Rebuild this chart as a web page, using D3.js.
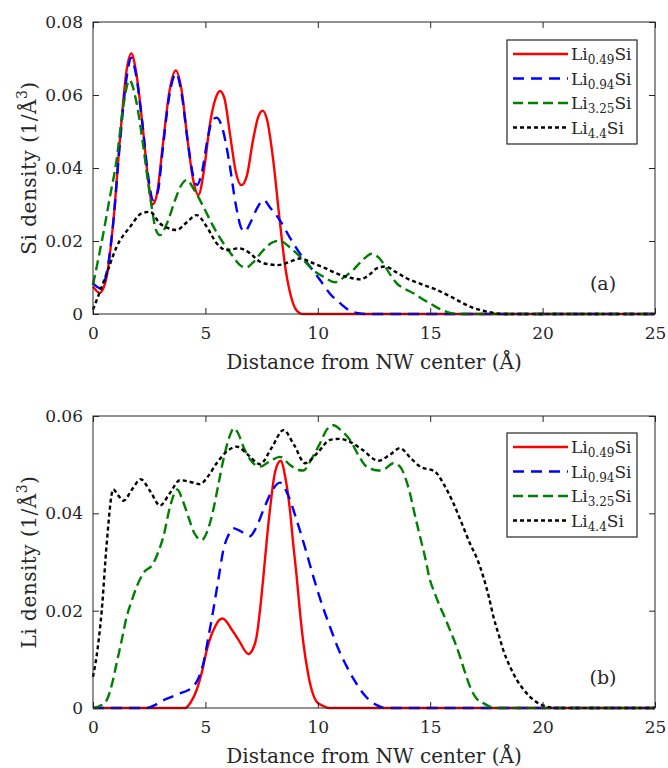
<!DOCTYPE html>
<html lang="en">
<head>
  <meta charset="utf-8">
  <title>Si and Li density</title>
  <script src="https://d3js.org/d3.v7.min.js"></script>
  <style>
    body { margin: 0; background: #fff; }
    svg text { font-family: "DejaVu Serif", serif; fill: #262626; }
  </style>
</head>
<body>
<div id="chart"></div>
<script>
  // series names (legend)
  const names = [
    { base: "Li", sub: "0.49", tail: "Si" },
    { base: "Li", sub: "0.94", tail: "Si" },
    { base: "Li", sub: "3.25", tail: "Si" },
    { base: "Li", sub: "4.4", tail: "Si" }
  ]
  const xTicks = [0, 5, 10, 15, 20, 25]
  const siTicks = [0, 0.02, 0.04, 0.06, 0.08]
  const liTicks = [0, 0.02, 0.04, 0.06]

  // Si density: [distance, density]
  const siLi049 = [[0,0.0075],[0.3,0.0058],[0.6,0.010],[0.9,0.025],[1.2,0.048],[1.5,0.067],[1.7,0.0714],[1.9,0.067],[2.2,0.052],[2.45,0.037],[2.65,0.030],[2.85,0.033],[3.1,0.046],[3.4,0.061],[3.68,0.0667],[3.95,0.061],[4.2,0.048],[4.45,0.037],[4.69,0.0326],[4.95,0.040],[5.2,0.052],[5.45,0.059],[5.65,0.0611],[5.85,0.059],[6.1,0.049],[6.35,0.039],[6.6,0.0353],[6.85,0.038],[7.1,0.047],[7.35,0.054],[7.55,0.0557],[7.75,0.053],[8.0,0.043],[8.3,0.026],[8.55,0.013],[8.8,0.005],[9.05,0.001],[9.3,0],[25,0]]
  const siLi094 = [[0,0.0084],[0.35,0.0070],[0.6,0.011],[0.9,0.025],[1.2,0.047],[1.5,0.065],[1.7,0.0702],[1.9,0.066],[2.2,0.052],[2.45,0.038],[2.68,0.0312],[2.9,0.034],[3.1,0.045],[3.4,0.060],[3.7,0.0659],[3.95,0.060],[4.2,0.048],[4.45,0.038],[4.62,0.0353],[4.85,0.039],[5.1,0.048],[5.3,0.053],[5.5,0.0538],[5.75,0.051],[6.05,0.042],[6.35,0.030],[6.6,0.0235],[6.76,0.0226],[7.0,0.025],[7.3,0.029],[7.58,0.0312],[7.9,0.029],[8.3,0.0258],[8.75,0.021],[9.2,0.0166],[9.65,0.013],[10.1,0.0093],[10.55,0.0055],[11.0,0.0029],[11.4,0.001],[11.8,0.0002],[12.2,0],[25,0]]
  const siLi325 = [[0,0.008],[0.2,0.014],[0.46,0.0221],[0.75,0.032],[1.05,0.0422],[1.35,0.057],[1.62,0.0641],[1.9,0.059],[2.24,0.0458],[2.45,0.036],[2.61,0.0294],[2.8,0.023],[2.98,0.0216],[3.3,0.025],[3.65,0.0312],[3.9,0.035],[4.17,0.0367],[4.5,0.034],[4.91,0.0294],[5.35,0.024],[5.8,0.0194],[6.2,0.016],[6.54,0.0134],[6.8,0.0127],[7.1,0.014],[7.58,0.0175],[7.95,0.0195],[8.3,0.0201],[8.8,0.018],[9.36,0.0148],[9.8,0.012],[10.25,0.0102],[10.77,0.0087],[11.15,0.010],[11.58,0.0121],[12.0,0.0148],[12.4,0.0165],[12.7,0.0155],[12.91,0.0139],[13.2,0.011],[13.51,0.0084],[13.9,0.0068],[14.25,0.0057],[14.6,0.0043],[14.99,0.0029],[15.35,0.0016],[15.73,0.0006],[16.2,0],[25,0]]
  const siLi44 = [[0,0.0012],[0.3,0.006],[0.61,0.0111],[1.05,0.0184],[1.65,0.0239],[2.17,0.0276],[2.54,0.0280],[2.98,0.0248],[3.35,0.0235],[3.72,0.0230],[4.15,0.025],[4.61,0.0271],[5.05,0.024],[5.5,0.0194],[5.95,0.0175],[6.5,0.018],[6.95,0.0168],[7.43,0.0143],[7.85,0.0136],[8.24,0.0134],[8.75,0.0143],[9.21,0.0152],[9.8,0.0139],[10.35,0.0125],[10.84,0.0111],[11.4,0.0100],[11.88,0.0095],[12.3,0.0108],[12.62,0.0125],[12.99,0.0130],[13.5,0.0114],[13.95,0.0098],[14.6,0.0082],[15.29,0.0066],[15.9,0.0048],[16.47,0.0029],[16.9,0.0017],[17.36,0.0009],[17.8,0.0003],[18.25,0],[25,0]]

  // Li density: [distance, density]
  const liLi049 = [[0,0],[4.1,0],[4.35,0.0012],[4.61,0.0037],[4.85,0.0075],[5.06,0.0119],[5.25,0.0148],[5.43,0.0167],[5.6,0.0180],[5.77,0.0184],[5.93,0.0178],[6.09,0.0167],[6.5,0.0138],[6.91,0.0111],[7.1,0.0120],[7.28,0.0147],[7.45,0.021],[7.58,0.0270],[7.72,0.034],[7.87,0.0407],[8.1,0.0485],[8.35,0.0508],[8.55,0.0475],[8.76,0.0407],[8.9,0.034],[9.06,0.0270],[9.2,0.020],[9.36,0.0133],[9.55,0.0075],[9.73,0.0037],[9.95,0.0013],[10.25,0.0004],[10.5,0],[25,0]]
  const liLi094 = [[0,0],[2.39,0],[2.75,0.0006],[3.13,0.0016],[3.5,0.0023],[3.87,0.003],[4.2,0.0036],[4.46,0.0044],[4.7,0.0062],[4.91,0.0092],[5.13,0.0145],[5.35,0.0201],[5.58,0.0265],[5.8,0.0325],[6.02,0.0355],[6.25,0.0369],[6.5,0.0365],[6.98,0.0353],[7.25,0.0370],[7.58,0.0407],[7.95,0.0445],[8.32,0.0463],[8.7,0.0435],[9.06,0.0386],[9.43,0.0330],[9.8,0.0270],[10.17,0.0215],[10.54,0.0167],[10.9,0.0123],[11.29,0.0085],[11.65,0.0055],[12.02,0.003],[12.32,0.0015],[12.62,0.0006],[13.0,0],[25,0]]
  const liLi325 = [[0,0],[0.3,0.0004],[0.61,0.0016],[0.85,0.005],[1.05,0.0092],[1.28,0.014],[1.5,0.0188],[1.72,0.022],[1.94,0.0249],[2.24,0.0277],[2.68,0.0297],[2.9,0.032],[3.13,0.0352],[3.43,0.0414],[3.75,0.0449],[4.0,0.0425],[4.24,0.0393],[4.5,0.0360],[4.83,0.0345],[5.1,0.0365],[5.35,0.0407],[5.58,0.046],[5.8,0.0510],[6.05,0.0555],[6.27,0.0575],[6.45,0.0565],[6.69,0.0537],[7.0,0.0510],[7.43,0.0496],[7.9,0.0508],[8.32,0.0516],[8.75,0.0500],[9.13,0.0489],[9.36,0.0488],[9.7,0.0510],[10.1,0.0544],[10.4,0.0572],[10.69,0.0581],[11.05,0.0570],[11.43,0.0551],[11.8,0.0520],[12.17,0.0496],[12.69,0.0488],[13.0,0.0492],[13.36,0.0503],[13.66,0.0496],[13.88,0.0475],[14.1,0.0441],[14.3,0.040],[14.55,0.0352],[14.77,0.031],[14.99,0.0263],[15.2,0.0236],[15.44,0.0208],[15.66,0.0185],[15.88,0.0160],[16.1,0.0135],[16.33,0.0105],[16.55,0.0073],[16.77,0.0044],[17.05,0.002],[17.36,0.001],[17.9,0],[25,0]]
  const liLi44 = [[0,0.0064],[0.2,0.012],[0.39,0.0201],[0.61,0.0338],[0.9,0.0449],[1.12,0.0437],[1.35,0.0426],[1.75,0.0450],[2.12,0.0470],[2.55,0.0445],[2.98,0.0416],[3.4,0.0440],[3.87,0.0468],[4.3,0.0465],[4.76,0.0460],[5.1,0.0475],[5.5,0.0503],[5.95,0.0527],[6.39,0.0537],[6.9,0.0520],[7.43,0.0501],[7.95,0.0535],[8.47,0.0571],[8.95,0.0540],[9.43,0.0503],[10.0,0.0525],[10.54,0.0551],[11.0,0.0553],[11.43,0.0547],[12.0,0.0530],[12.69,0.0508],[13.2,0.0520],[13.66,0.0534],[14.1,0.0515],[14.55,0.0496],[15.21,0.0486],[15.6,0.0460],[16.03,0.0421],[16.4,0.038],[16.77,0.0338],[17.1,0.0305],[17.36,0.0270],[17.6,0.0230],[17.81,0.0188],[18.05,0.0150],[18.25,0.0119],[18.55,0.0085],[18.85,0.0058],[19.15,0.0038],[19.44,0.0023],[19.8,0.0010],[20.18,0.0003],[20.5,0],[25,0]]

  const colors = ["#ff0000", "#0000ff", "#008000", "#000000"]
  const dashes = [null, "11,7", "10,5", "4,3"]

  const W = 668, H = 768
  const svg = d3.select("#chart").append("svg")
    .attr("width", W)
    .attr("height", H)

  const x = d3.scaleLinear().domain([0, 25]).range([93, 655])

  function panel(opts) {
    const y = d3.scaleLinear().domain([0, opts.ymax]).range([opts.bottom, opts.top])
    const g = svg.append("g")
    const axisColor = "#262626"

    // lines
    const line = d3.line()
      .x(d => x(d[0]))
      .y(d => y(d[1]))
      .curve(d3.curveMonotoneX)
    opts.series.forEach((s, i) => {
      g.append("path")
        .datum(s)
        .attr("fill", "none")
        .attr("stroke", colors[i])
        .attr("stroke-width", 2.4)
        .attr("stroke-dasharray", dashes[i])
        .attr("d", line)
    })

    // box + ticks
    g.append("rect")
      .attr("x", x(0)).attr("y", y(opts.ymax))
      .attr("width", x(25) - x(0)).attr("height", y(0) - y(opts.ymax))
      .attr("fill", "none").attr("stroke", axisColor).attr("stroke-width", 1)

    const tl = 6
    const xa = g.append("g").attr("transform", `translate(0,${y(0)})`)
      .call(d3.axisBottom(x).tickValues(xTicks).tickSizeInner(-tl).tickSizeOuter(0).tickPadding(13).tickFormat(d3.format("d")))
    const xt = g.append("g").attr("transform", `translate(0,${y(opts.ymax)})`)
      .call(d3.axisTop(x).tickValues(xTicks).tickSizeInner(-tl).tickSizeOuter(0).tickFormat(""))
    const ya = g.append("g").attr("transform", `translate(${x(0)},0)`)
      .call(d3.axisLeft(y).tickValues(opts.ticks).tickSizeInner(-tl).tickSizeOuter(0).tickPadding(10)
        .tickFormat(d => d === 0 ? "0" : d3.format(".2f")(d)))
    const yr = g.append("g").attr("transform", `translate(${x(25)},0)`)
      .call(d3.axisRight(y).tickValues(opts.ticks).tickSizeInner(-tl).tickSizeOuter(0).tickFormat(""))
    ;[xa, xt, ya, yr].forEach(a => {
      a.select(".domain").remove()
      a.selectAll("line").attr("stroke", axisColor)
      a.selectAll("text").style("font-size", "17px").attr("fill", axisColor)
        .style("font-family", '"DejaVu Serif", serif')
    })

    // axis labels
    g.append("text")
      .attr("x", (x(0) + x(25)) / 2)
      .attr("y", opts.bottom + 55)
      .attr("text-anchor", "middle")
      .style("font-size", "20px")
      .text("Distance from NW center (Å)")

    const yl = g.append("text")
      .attr("transform", `translate(36,${(opts.top + opts.bottom) / 2}) rotate(-90)`)
      .attr("text-anchor", "middle")
      .style("font-size", "20px")
      .style("letter-spacing", "0.5px")
    yl.append("tspan").text(opts.ylabel + " (1/Å")
    yl.append("tspan").attr("dy", -9).style("font-size", "14px").text("3")
    yl.append("tspan").attr("dy", 9).text(")")

    // panel letter
    g.append("text")
      .attr("x", 603).attr("y", opts.bottom - 24)
      .attr("text-anchor", "middle")
      .style("font-size", "19px")
      .text(opts.letter)

    // legend
    const lg = g.append("g").attr("transform", `translate(507,${opts.legendTop})`)
    lg.append("rect")
      .attr("width", 130).attr("height", 104)
      .attr("fill", "#fff").attr("stroke", axisColor).attr("stroke-width", 1.2)
    names.forEach((n, i) => {
      const cy = 14 + i * 24.5
      lg.append("line")
        .attr("x1", 6).attr("x2", 61).attr("y1", cy).attr("y2", cy)
        .attr("stroke", colors[i]).attr("stroke-width", 2.4)
        .attr("stroke-dasharray", dashes[i])
      const t = lg.append("text").attr("x", 64).attr("y", cy + 6).style("font-size", "17px").attr("fill", "#000")
      t.append("tspan").text(n.base)
      t.append("tspan").attr("dy", 4).style("font-size", "12px").text(n.sub)
      t.append("tspan").attr("dy", -4).text(n.tail)
    })
  }

  panel({ top: 22, bottom: 314, ymax: 0.08, ticks: siTicks, ylabel: "Si density",
    series: [siLi049, siLi094, siLi325, siLi44], letter: "(a)", legendTop: 40 })
  panel({ top: 416, bottom: 708, ymax: 0.06, ticks: liTicks, ylabel: "Li density",
    series: [liLi049, liLi094, liLi325, liLi44], letter: "(b)", legendTop: 433 })
</script>
</body>
</html>
